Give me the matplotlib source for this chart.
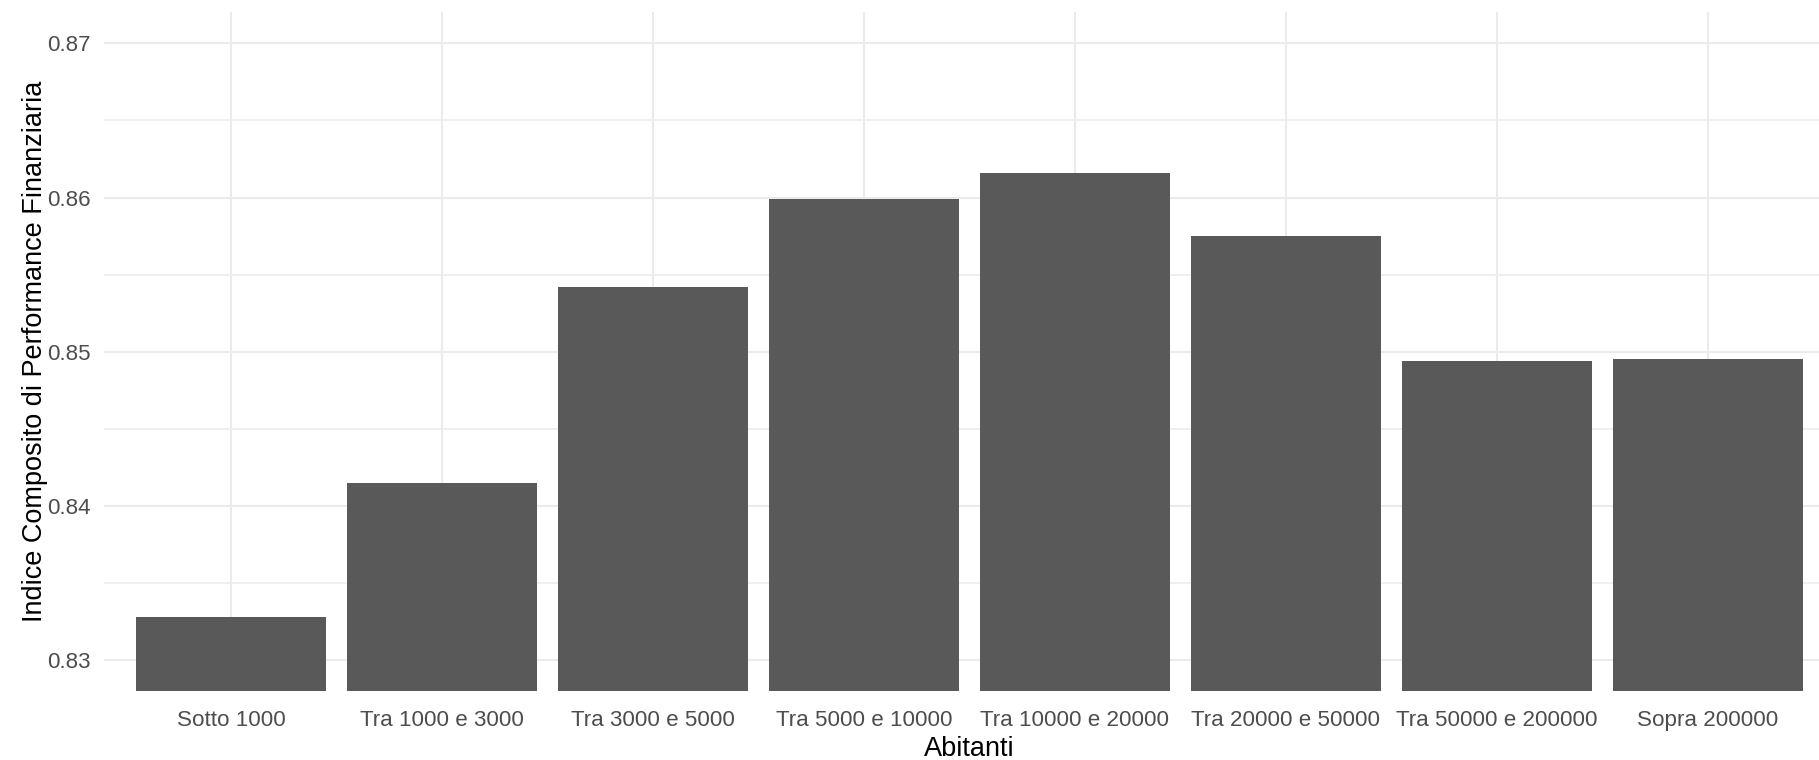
import matplotlib
matplotlib.use("Agg")
import matplotlib.pyplot as plt
import numpy as np

plt.rcParams['font.family'] = ['Liberation Sans', 'DejaVu Sans']

# classi di abitanti e indice medio
categorie = ["Sotto 1000", "Tra 1000 e 3000", "Tra 3000 e 5000", "Tra 5000 e 10000",
             "Tra 10000 e 20000", "Tra 20000 e 50000", "Tra 50000 e 200000", "Sopra 200000"]
indice = [0.8328, 0.8415, 0.8542, 0.8599, 0.8616, 0.8575, 0.8494, 0.8495]
y_ticks = [0.83, 0.84, 0.85, 0.86, 0.87]
y_minor = [0.835, 0.845, 0.855, 0.865]

fig = plt.figure(figsize=(18.19, 7.6), dpi=100)
# the panel runs a bit past the right edge of the picture, as in the original
ax = fig.add_axes([0.0574, 0.0908, 0.951, 0.8928])

x = np.arange(len(categorie))
ax.bar(x, indice, width=0.9, color="#595959", zorder=3)

ax.set_xlim(-0.6, len(categorie) - 0.4)
ax.set_ylim(0.828, 0.872)
ax.set_xticks(x)
ax.set_xticklabels(categorie)
ax.set_yticks(y_ticks)
ax.set_yticklabels(["0.83", "0.84", "0.85", "0.86", "0.87"])
ax.set_yticks(y_minor, minor=True)

grid_col = "#EBEBEB"
ax.grid(True, which="major", color=grid_col, linewidth=1.5, zorder=0)
ax.grid(True, which="minor", axis="y", color=grid_col, linewidth=1.1, zorder=0)
for s in ax.spines.values():
    s.set_visible(False)
ax.tick_params(which="both", length=0)
ax.tick_params(axis="x", labelsize=16.1, labelcolor="#4D4D4D", pad=13.5)
ax.tick_params(axis="y", labelsize=16.1, labelcolor="#4D4D4D", pad=10)

ax.set_xlabel("Abitanti", fontsize=19.5, color="black", labelpad=4)
ax.set_ylabel("Indice Composito di Performance Finanziaria", fontsize=19.5, color="black", labelpad=-1)

fig.savefig("out.png", dpi=100, facecolor="white")
